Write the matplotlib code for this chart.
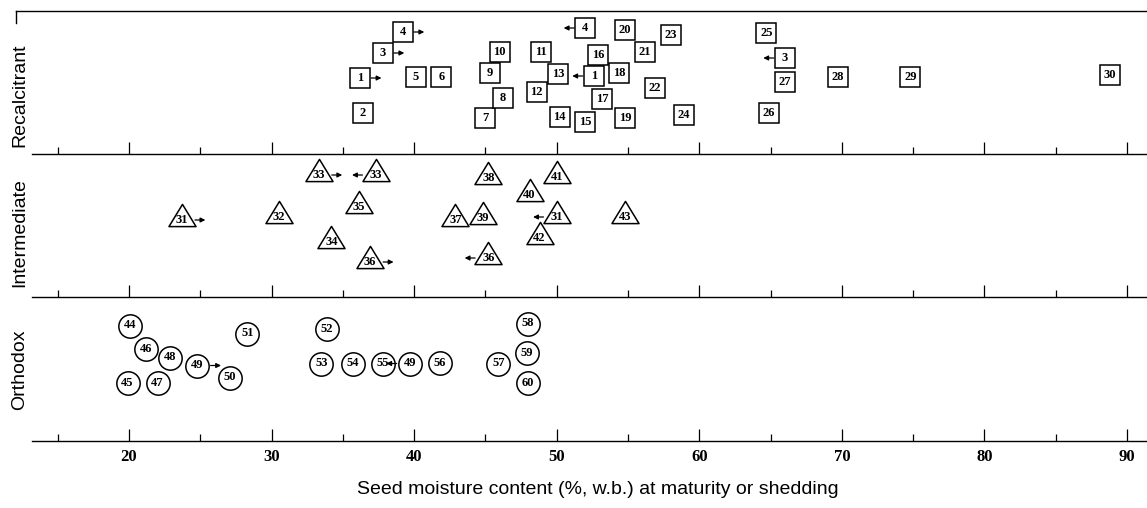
import matplotlib.pyplot as plt
import numpy as np
from matplotlib.path import Path
from matplotlib.transforms import ScaledTranslation

# recalcitrant species (squares)
rec_labels = ['1', '2', '3', '4', '5', '6', '7', '8', '9', '10',
              '11', '12', '13', '14', '15', '16', '17', '18', '19', '20',
              '21', '22', '23', '24', '25', '26', '27', '28', '29', '30',
              '4', '1', '3']
rec_moisture = [36.2, 36.4, 37.8, 39.2, 40.1, 41.9, 45.0, 46.2, 45.3, 46.0,
                48.9, 48.6, 50.1, 50.2, 52.0, 52.9, 53.2, 54.4, 54.8, 54.8,
                56.2, 56.9, 58.0, 58.9, 64.7, 64.9, 66.0, 69.7, 74.8, 88.8,
                52.0, 52.6, 66.0]
rec_level = [76, 41, 101, 122, 77, 77, 36, 56, 81, 102,
             102, 62, 80, 37, 32, 99, 55, 81, 36, 124,
             102, 66, 119, 39, 121, 41, 72, 77, 77, 79,
             126, 78, 96]
rec_arrow = [1, 0, 1, 1, 0, 0, 0, 0, 0, 0,
             0, 0, 0, 0, 0, 0, 0, 0, 0, 0,
             0, 0, 0, 0, 0, 0, 0, 0, 0, 0,
             -1, -1, -1]

# intermediate species (triangles)
int_labels = ['31', '32', '33', '33', '34', '35', '36', '36', '37', '38',
              '39', '40', '41', '31', '42', '43']
int_moisture = [23.7, 30.5, 33.3, 37.3, 34.2, 36.1, 36.9, 45.2, 42.9, 45.2,
                44.8, 48.1, 50.0, 50.0, 48.8, 54.8]
int_level = [77, 80, 122, 122, 55, 90, 35, 39, 77, 119,
             79, 102, 120, 80, 59, 80]
int_arrow = [1, 0, 1, -1, 0, 0, 1, -1, 0, 0,
             0, 0, 0, -1, 0, 0]

# orthodox species (circles)
ort_labels = ['44', '45', '46', '47', '48', '49', '50', '51', '52', '53',
              '54', '55', '49', '56', '57', '58', '59', '60']
ort_moisture = [20.1, 19.9, 21.2, 22.0, 22.9, 24.8, 27.1, 28.3, 33.9, 33.5,
                35.7, 37.8, 39.7, 41.8, 45.9, 48.0, 47.9, 48.0]
ort_level = [115, 58, 92, 58, 83, 75, 63, 107, 112, 77,
             77, 77, 77, 78, 77, 117, 88, 58]
ort_arrow = [0, 0, 0, 0, 0, 1, 0, 0, 0, 0,
             0, 0, -1, 0, 0, 0, 0, 0]

groups = ['Recalcitrant', 'Intermediate', 'Orthodox']
major_ticks = [20, 30, 40, 50, 60, 70, 80, 90]
minor_ticks = [15, 25, 35, 45, 55, 65, 75, 85]

tri = Path([(0, 0.41), (-0.5, -0.41), (0.5, -0.41), (0, 0.41)],
           [Path.MOVETO, Path.LINETO, Path.LINETO, Path.CLOSEPOLY])

serif = 'Liberation Serif'
sans = 'Liberation Sans'

fig = plt.figure(figsize=(11.47, 5.08), dpi=100)
W, H = 1147, 508
left = 16 / W
xmin = 20 - (129 - 16) / 14.257
xmax = 20 + (1147 - 129) / 14.257
band_tops = [11, 154, 297.5]
band_h = 143

bands = [
    (rec_labels, rec_moisture, rec_level, rec_arrow, 's', 14.6, 0, 8),
    (int_labels, int_moisture, int_level, int_arrow, tri, 19.5, 5, 9.5),
    (ort_labels, ort_moisture, ort_level, ort_arrow, 'o', 16.8, 0, 9.5),
]

axes = []
for i, (labs, xs, ys, arr, mk, ms, dy, off) in enumerate(bands):
    top = band_tops[i]
    ax = fig.add_axes([left, 1 - (top + band_h) / H, 1 - left, band_h / H])
    ax.patch.set_visible(False)
    ax.set_xlim(xmin, xmax)
    ax.set_ylim(0, band_h)
    for s in ['left', 'right']:
        ax.spines[s].set_visible(False)
    ax.spines['top'].set_visible(i == 0)
    ax.spines['bottom'].set_bounds(13.2, xmax)
    ax.spines['bottom'].set_linewidth(1.0)
    ax.spines['top'].set_linewidth(1.0)
    ax.set_yticks([])
    ax.set_xticks(major_ticks)
    ax.set_xticks(minor_ticks, minor=True)
    ax.tick_params(axis='x', which='major', direction='in', length=8.5,
                   width=0.9, color='black', pad=6)
    ax.tick_params(axis='x', which='minor', direction='in', length=5,
                   width=0.9, color='black')
    if i < 2:
        ax.tick_params(axis='x', labelbottom=False)
    else:
        ax.set_xticklabels([str(t) for t in major_ticks],
                           fontfamily=serif, fontweight='bold', fontsize=12)

    ax.plot(xs, np.array(ys) + dy, linestyle='none', marker=mk,
            markersize=ms, markerfacecolor='white', markeredgecolor='black',
            markeredgewidth=1.1, clip_on=False)
    for lab, x, y, a in zip(labs, xs, ys, arr):
        ax.text(x, y, lab, ha='center', va='center', fontfamily=serif,
                fontweight='bold', fontsize=9, color='black')
        if a != 0:
            start = ScaledTranslation(a * off / 72, 0, fig.dpi_scale_trans)
            end = ScaledTranslation(a * (off + 7.5) / 72, 0, fig.dpi_scale_trans)
            ax.annotate('', xy=(x, y), xycoords=ax.transData + end,
                        xytext=(x, y), textcoords=ax.transData + start,
                        arrowprops=dict(arrowstyle='-|>', color='black',
                                        lw=0.9, mutation_scale=7,
                                        shrinkA=0, shrinkB=0))
    axes.append(ax)

# small downward stroke at the top-left corner
axes[0].plot([0, 0], [1, 1 - 12 / band_h], transform=axes[0].transAxes,
             color='black', lw=1.0, clip_on=False)

label_y = [95, 233, 370]
for g, yy in zip(groups, label_y):
    fig.text(20 / W, 1 - yy / H, g, rotation=90, ha='center', va='center',
             fontfamily=sans, fontsize=14)

fig.text(598 / W, 1 - 490 / H,
         'Seed moisture content (%, w.b.) at maturity or shedding',
         ha='center', va='center', fontfamily=sans, fontsize=14)

fig.savefig('out.png', dpi=100, facecolor='white')
